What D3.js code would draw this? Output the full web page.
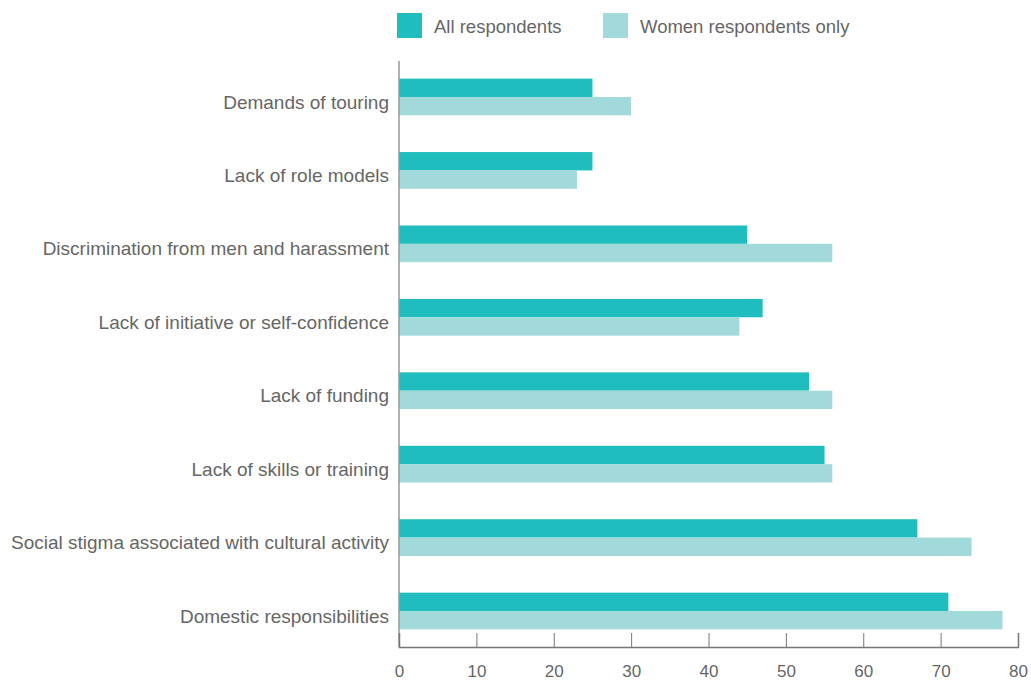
<!DOCTYPE html>
<html>
<head>
<meta charset="utf-8">
<script src="https://cdn.jsdelivr.net/npm/d3@7"></script>
<style>
  body { margin: 0; background: #fff; }
  text { font-family: 'Liberation Sans', Arial, sans-serif; fill: #666; }
</style>
</head>
<body>
<div id="chart"></div>
<script>
  const categories = [
    'Demands of touring',
    'Lack of role models',
    'Discrimination from men and harassment',
    'Lack of initiative or self-confidence',
    'Lack of funding',
    'Lack of skills or training',
    'Social stigma associated with cultural activity',
    'Domestic responsibilities',
  ];
  const seriesNames = ['All respondents', 'Women respondents only'];
  const allValues = [25, 25, 45, 47, 53, 55, 67, 71];
  const womenValues = [30, 23, 56, 44, 56, 56, 74, 78];
  const ticks = [0, 10, 20, 30, 40, 50, 60, 70, 80];
  const colors = ['#20bdbe', '#a2dadb'];

  const width = 1031;
  const height = 681;
  const plot = { left: 399, right: 1018, top: 61, bottom: 647 };

  const rows = categories.map((c, i) => ({ cat: c, values: [allValues[i], womenValues[i]] }));

  const x = d3.scaleLinear().domain([0, 80]).range([plot.left, plot.right]);
  const y0 = d3.scaleBand().domain(categories).range([plot.top, plot.bottom])
    .paddingInner(0.5).paddingOuter(0.24);
  const y1 = d3.scaleBand().domain([0, 1]).range([0, y0.bandwidth()]);

  const svg = d3.select('#chart').append('svg')
    .attr('width', width)
    .attr('height', height);

  // bars
  const groups = svg.selectAll('.grp')
    .data(rows)
    .enter()
    .append('g')
    .attr('class', 'grp')
    .attr('transform', d => `translate(0, ${y0(d.cat)})`);

  groups.selectAll('rect')
    .data(d => d.values)
    .enter()
    .append('rect')
    .attr('x', x(0))
    .attr('y', (d, i) => y1(i))
    .attr('width', d => x(d) - x(0))
    .attr('height', y1.bandwidth())
    .attr('fill', (d, i) => colors[i]);

  // category labels, sitting a little below the middle of each pair
  svg.selectAll('.cat-label')
    .data(categories)
    .enter()
    .append('text')
    .attr('class', 'cat-label')
    .attr('x', plot.left - 10)
    .attr('y', d => y0(d) + y0.bandwidth() / 2 + 5)
    .attr('dy', '0.35em')
    .attr('text-anchor', 'end')
    .style('font-size', '19px')
    .text(d => d);

  // y axis line
  svg.append('line')
    .attr('x1', plot.left).attr('x2', plot.left)
    .attr('y1', plot.top).attr('y2', plot.bottom)
    .attr('stroke', '#999')
    .attr('stroke-width', 1.5);

  // x axis
  const xAxis = svg.append('g')
    .attr('transform', `translate(0, ${plot.bottom})`)
    .call(d3.axisBottom(x).tickValues(ticks).tickSizeInner(-14).tickSizeOuter(-14).tickPadding(18));
  xAxis.select('.domain').attr('stroke', '#777').attr('stroke-width', 1.5);
  xAxis.selectAll('.tick line').attr('stroke', '#777');
  xAxis.selectAll('.tick text')
    .style('font-size', '17px')
    .style('font-family', "'Liberation Sans', Arial, sans-serif")
    .attr('fill', '#666');

  // legend
  const legendX = [397, 603];
  const legend = svg.selectAll('.legend')
    .data(seriesNames)
    .enter()
    .append('g')
    .attr('class', 'legend')
    .attr('transform', (d, i) => `translate(${legendX[i]}, 13)`);

  legend.append('rect')
    .attr('width', 25)
    .attr('height', 25)
    .attr('fill', (d, i) => colors[i]);

  legend.append('text')
    .attr('x', 37)
    .attr('y', 14)
    .attr('dy', '0.35em')
    .style('font-size', '18.5px')
    .text(d => d);
</script>
</body>
</html>
